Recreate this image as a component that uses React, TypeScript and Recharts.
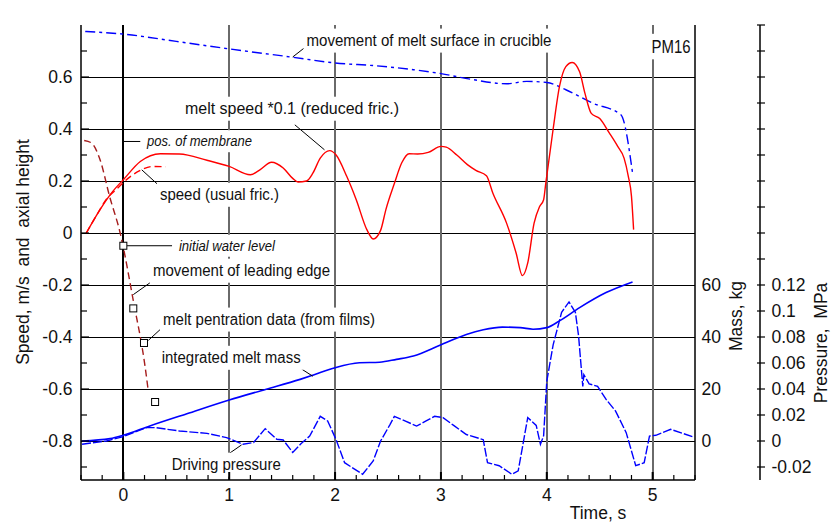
import React from 'react';
import { ComposedChart, Line, XAxis, YAxis, ReferenceLine, ReferenceDot } from 'recharts';

const FONT = '"Liberation Sans", Arial, Helvetica, sans-serif';

// movement of melt surface in crucible (axial height, m)
const surfTime = [-0.36, 0, 0.5, 1.0, 1.6, 2.0, 2.39, 2.74, 3.0, 3.3, 3.62, 3.81, 4.0, 4.18, 4.43, 4.7, 4.81];
const surfHeight = [0.775, 0.765, 0.737, 0.708, 0.676, 0.654, 0.643, 0.628, 0.613, 0.59, 0.574, 0.583, 0.579, 0.551, 0.5, 0.455, 0.231];

// melt speed *0.1 (reduced friction)
const meltTime = [-0.35, -0.22, -0.1, 0, 0.16, 0.35, 0.53, 0.79, 1.0, 1.2, 1.29, 1.4, 1.51, 1.6, 1.65, 1.73, 1.79, 1.86, 1.95, 2.01, 2.11, 2.2, 2.3, 2.36, 2.43, 2.48, 2.56, 2.63, 2.7, 2.78, 2.88, 3.0, 3.05, 3.15, 3.25, 3.33, 3.43, 3.49, 3.62, 3.71, 3.77, 3.82, 3.88, 3.93, 3.97, 3.99, 4.06, 4.12, 4.18, 4.24, 4.31, 4.36, 4.42, 4.5, 4.59, 4.67, 4.73, 4.77, 4.8, 4.82];
const meltSpeed = [0, 0.09, 0.16, 0.205, 0.275, 0.305, 0.304, 0.28, 0.256, 0.224, 0.243, 0.272, 0.25, 0.21, 0.196, 0.2, 0.23, 0.288, 0.317, 0.3, 0.218, 0.128, 0.013, -0.023, 0.01, 0.09, 0.19, 0.27, 0.305, 0.304, 0.31, 0.333, 0.33, 0.3, 0.263, 0.241, 0.22, 0.154, 0.038, -0.077, -0.164, -0.115, 0.038, 0.1, 0.128, 0.19, 0.4, 0.564, 0.64, 0.656, 0.62, 0.538, 0.46, 0.44, 0.385, 0.333, 0.288, 0.218, 0.141, 0.013];

// speed (usual friction)
const usualTime = [-0.35, -0.25, -0.16, -0.06, 0.06, 0.17, 0.28, 0.4];
const usualSpeed = [0, 0.07, 0.13, 0.17, 0.215, 0.243, 0.256, 0.255];

// movement of leading edge (axial height, m)
const edgeTime = [-0.37, -0.3, -0.22, -0.13, -0.03, 0.094, 0.205, 0.236];
const edgeHeight = [0.356, 0.346, 0.282, 0.141, 0, -0.26, -0.513, -0.609];

// melt penetration data (from films)
const filmTime = [0, 0.094, 0.195, 0.3];
const filmHeight = [-0.049, -0.29, -0.423, -0.65];

// integrated melt mass, kg
const massTime = [-0.39, -0.125, 0, 0.25, 0.6, 1.0, 1.35, 1.67, 1.79, 2.0, 2.23, 2.42, 2.58, 2.74, 2.99, 3.24, 3.4, 3.58, 3.75, 3.87, 4.0, 4.12, 4.31, 4.56, 4.81];
const massKg = [0, 0.9, 2.2, 5.8, 10.5, 15.8, 19.9, 23.7, 25.3, 28.2, 30.1, 30.3, 31.4, 32.7, 36.8, 41, 42.8, 43.8, 43.6, 43, 43.6, 46.2, 51.3, 57.1, 61.2];

// driving pressure, MPa
const presTime = [-0.39, -0.16, 0, 0.22, 0.3, 0.53, 0.79, 0.975, 1.13, 1.23, 1.34, 1.45, 1.51, 1.6, 1.68, 1.76, 1.86, 1.93, 2.01, 2.09, 2.26, 2.36, 2.43, 2.52, 2.56, 2.66, 2.77, 2.86, 2.94, 3.02, 3.12, 3.24, 3.4, 3.44, 3.55, 3.67, 3.73, 3.82, 3.9, 3.94, 3.97, 4.0, 4.06, 4.14, 4.21, 4.27, 4.3, 4.34, 4.35, 4.4, 4.48, 4.56, 4.65, 4.75, 4.84, 4.92, 4.97, 5.03, 5.17, 5.39];
const presMPa = [-0.0025, 0, 0.0034, 0.0103, 0.0103, 0.0077, 0.0059, 0.0026, -0.0025, -0.0012, 0.0095, 0.0013, 0.0008, -0.0088, -0.002, 0.0038, 0.019, 0.0154, 0.001, -0.0167, -0.0256, -0.0154, 0, 0.0128, 0.019, 0.0155, 0.0115, 0.0154, 0.019, 0.018, 0.012, 0.005, 0.001, -0.0167, -0.019, -0.0256, -0.023, 0.018, 0.012, -0.0025, 0.004, 0.046, 0.074, 0.099, 0.107, 0.099, 0.081, 0.042, 0.051, 0.044, 0.042, 0.032, 0.023, 0.0064, -0.019, -0.0167, 0.0038, 0.0044, 0.009, 0.003];

// axes ticks
const timeTicks = [-0.4, -0.2, 0, 0.2, 0.4, 0.6, 0.8, 1, 1.2, 1.4, 1.6, 1.8, 2, 2.2, 2.4, 2.6, 2.8, 3, 3.2, 3.4, 3.6, 3.8, 4, 4.2, 4.4, 4.6, 4.8, 5, 5.2, 5.4];
const speedTicks = [-0.9, -0.8, -0.7, -0.6, -0.5, -0.4, -0.3, -0.2, -0.1, 0, 0.1, 0.2, 0.3, 0.4, 0.5, 0.6, 0.7];
const massTicks = [0, 20, 40, 60];
const presTicks = [-0.02, 0, 0.02, 0.04, 0.06, 0.08, 0.1, 0.12, 0.14, 0.16, 0.18, 0.2, 0.22, 0.24, 0.26, 0.28, 0.3, 0.32];
const presLabelled = [-0.02, 0, 0.02, 0.04, 0.06, 0.08, 0.1, 0.12];
const gridSpeed = [-0.8, -0.6, -0.4, -0.2, 0, 0.2, 0.4, 0.6];
const gridTimeGray = [1, 2, 3, 4, 5];

const zip = (ts: number[], vs: number[]) => ts.map((t, i) => ({ t, y: vs[i] }));

const surfData = zip(surfTime, surfHeight);
const meltData = zip(meltTime, meltSpeed);
const usualData = zip(usualTime, usualSpeed);
const edgeData = zip(edgeTime, edgeHeight);
const filmData = zip(filmTime, filmHeight);
const massData = zip(massTime, massKg);
const presData = zip(presTime, presMPa);

// annotations (anchored in time / speed-axis units)
const annotations = [
  { text: 'movement of melt surface in crucible', t: 1.73, y: 0.74, w: 245, size: 16, italic: false },
  { text: 'melt speed *0.1 (reduced fric.)', t: 0.582, y: 0.478, w: 214, size: 16, italic: false },
  { text: 'pos. of membrane', t: 0.224, y: 0.353, w: 105, size: 14, italic: true },
  { text: 'speed (usual fric.)', t: 0.346, y: 0.147, w: 119, size: 16, italic: false },
  { text: 'initial water level', t: 0.525, y: -0.049, w: 96, size: 14, italic: true },
  { text: 'movement of leading edge', t: 0.28, y: -0.145, w: 177, size: 16, italic: false },
  { text: 'melt pentration data (from films)', t: 0.375, y: -0.333, w: 212, size: 16, italic: false },
  { text: 'integrated melt mass', t: 0.362, y: -0.48, w: 139, size: 16, italic: false },
  { text: 'Driving pressure', t: 0.457, y: -0.891, w: 109, size: 16, italic: false },
  { text: 'PM16', t: 4.99, y: 0.717, w: 39, size: 17.5, italic: false },
];

const leaders = [
  [1.6, 0.677, 1.71, 0.712],
  [1.62, 0.416, 1.9, 0.32],
  [0, 0.352, 0.16, 0.352],
  [0.174, 0.243, 0.33, 0.185],
  [0.035, -0.049, 0.46, -0.049],
  [0.094, -0.237, 0.25, -0.192],
  [0.236, -0.413, 0.346, -0.372],
  [1.683, -0.523, 1.79, -0.551],
  [1.007, -0.846, 1.117, -0.815],
];

const isMult = (v: number, step: number) => Math.abs(v / step - Math.round(v / step)) < 1e-6;

const BottomTick = (props: any) => {
  const { x, y, payload } = props;
  const v = payload.value;
  const major = isMult(v, 1);
  return (
    <g>
      <line x1={x} y1={y} x2={x} y2={y - (major ? 8 : 5)} stroke="#000" strokeWidth={major ? 2 : 1.2} />
      {major && (
        <text x={x} y={y + 21} textAnchor="middle" fontSize={17.5} fontFamily={FONT} fill="#111">
          {String(v)}
        </text>
      )}
    </g>
  );
};

const TopTick = (props: any) => {
  const { x, y, payload } = props;
  const major = isMult(payload.value, 1);
  return <line x1={x} y1={y} x2={x} y2={y + (major ? 8 : 5)} stroke="#000" strokeWidth={major ? 2 : 1.2} />;
};

const LeftTick = (props: any) => {
  const { x, y, payload } = props;
  const v = payload.value;
  const major = isMult(v, 0.2);
  return (
    <g>
      <line x1={x} y1={y} x2={x + (major ? 8 : 6)} y2={y} stroke="#000" strokeWidth={1.2} />
      {major && (
        <text x={x - 8.5} y={y} dy="0.35em" textAnchor="end" fontSize={17.5} fontFamily={FONT} fill="#111">
          {String(v)}
        </text>
      )}
    </g>
  );
};

const MassTick = (props: any) => {
  const { x, y, payload } = props;
  return (
    <text x={x + 6.5} y={y} dy="0.35em" textAnchor="start" fontSize={17.5} fontFamily={FONT} fill="#111">
      {String(payload.value)}
    </text>
  );
};

const PresTick = (props: any) => {
  const { x, y, payload } = props;
  const v = payload.value;
  const lab = presLabelled.some((p) => Math.abs(p - v) < 1e-9);
  return (
    <g>
      <line x1={x - 3} y1={y} x2={x + 5} y2={y} stroke="#000" strokeWidth={1.2} />
      {lab && (
        <text x={x + 11.5} y={y} dy="0.35em" textAnchor="start" fontSize={17.5} fontFamily={FONT} fill="#111">
          {String(v)}
        </text>
      )}
    </g>
  );
};

const AnnShape = (props: any) => {
  const { cx, cy, a } = props;
  const pad = 3;
  const h = a.size + 8;
  return (
    <g>
      <rect x={cx - pad} y={cy - h / 2} width={a.w + 2 * pad} height={h} fill="#fff" />
      <text
        x={cx}
        y={cy}
        dy="0.35em"
        fontSize={a.size}
        fontStyle={a.italic ? 'italic' : 'normal'}
        fontFamily={FONT}
        fill="#111"
        textLength={a.w}
        lengthAdjust="spacingAndGlyphs"
      >
        {a.text}
      </text>
    </g>
  );
};

const Square = (p: any) => (
  <rect key={`sq-${p.index}`} x={p.cx - 3.5} y={p.cy - 3.5} width={7} height={7} fill="#fff" stroke="#000" strokeWidth={1} />
);

export default function App() {
  return (
    <div style={{ position: 'absolute', left: 0, top: 0, width: 835, height: 525, background: '#fff' }}>
      <ComposedChart width={835} height={525} margin={{ top: 25, right: 0, bottom: 0, left: 0 }}>
        <XAxis
          xAxisId="b"
          type="number"
          dataKey="t"
          domain={[-0.4, 5.4]}
          ticks={timeTicks}
          interval={0}
          allowDataOverflow
          tickSize={0}
          tickMargin={0}
          tickLine={false}
          tick={BottomTick}
          height={45}
          axisLine={{ stroke: '#000', strokeWidth: 1.5 }}
          label={() => (
            <text x={598} y={519} textAnchor="middle" fontSize={17.5} fontFamily={FONT} fill="#111">
              Time, s
            </text>
          )}
        />
        <XAxis
          xAxisId="top"
          orientation="top"
          type="number"
          dataKey="t"
          domain={[-0.4, 5.4]}
          ticks={timeTicks}
          interval={0}
          allowDataOverflow
          tickSize={0}
          tickMargin={0}
          tickLine={false}
          tick={TopTick}
          height={0}
          axisLine={{ stroke: '#000', strokeWidth: 1.5 }}
          label={() => (
            <text x={81} y={20} textAnchor="start" fontSize={9.5} fontStyle="italic" fontWeight="bold" fontFamily={FONT} fill="#111">
              FMELT16
            </text>
          )}
        />
        <YAxis
          yAxisId="v"
          type="number"
          domain={[-0.95, 0.8]}
          ticks={speedTicks}
          interval={0}
          allowDataOverflow
          tickSize={0}
          tickMargin={0}
          tickLine={false}
          tick={LeftTick}
          width={81}
          axisLine={{ stroke: '#000', strokeWidth: 1.5 }}
          label={() => (
            <text
              x={23}
              y={252}
              transform="rotate(-90, 23, 252)"
              textAnchor="middle"
              dy="0.35em"
              fontSize={17.5}
              fontFamily={FONT}
              fill="#111"
              style={{ whiteSpace: 'pre' }}
            >
              {'Speed, m/s  and  axial height'}
            </text>
          )}
        />
        <YAxis
          yAxisId="mass"
          orientation="right"
          type="number"
          domain={[-15, 160]}
          ticks={massTicks}
          interval={0}
          allowDataOverflow
          tickSize={0}
          tickMargin={0}
          tickLine={false}
          tick={MassTick}
          width={65}
          axisLine={{ stroke: '#000', strokeWidth: 1.5 }}
          label={() => (
            <text x={736} y={316} transform="rotate(-90, 736, 316)" textAnchor="middle" dy="0.35em" fontSize={17.5} fontFamily={FONT} fill="#111">
              Mass, kg
            </text>
          )}
        />
        <YAxis
          yAxisId="pres"
          orientation="right"
          type="number"
          domain={[-0.03, 0.32]}
          ticks={presTicks}
          interval={0}
          allowDataOverflow
          tickSize={0}
          tickMargin={0}
          tickLine={false}
          tick={PresTick}
          width={75}
          axisLine={{ stroke: '#000', strokeWidth: 1.5 }}
          label={() => (
            <text
              x={820.5}
              y={343}
              transform="rotate(-90, 820.5, 343)"
              textAnchor="middle"
              dy="0.35em"
              fontSize={17.5}
              fontFamily={FONT}
              fill="#111"
              style={{ whiteSpace: 'pre' }}
            >
              {'Pressure,  MPa'}
            </text>
          )}
        />

        {gridSpeed.map((g) => (
          <ReferenceLine key={`gy${g}`} xAxisId="b" yAxisId="v" y={g} stroke="#000" strokeWidth={1} shapeRendering="crispEdges" />
        ))}
        {gridTimeGray.map((g) => (
          <ReferenceLine key={`gx${g}`} xAxisId="b" yAxisId="v" x={g} stroke="#6a6a6a" strokeWidth={2} shapeRendering="crispEdges" />
        ))}
        <ReferenceLine xAxisId="b" yAxisId="v" x={0} stroke="#000" strokeWidth={2} shapeRendering="crispEdges" />

        <Line xAxisId="b" yAxisId="v" data={surfData} dataKey="y" type="monotone" stroke="#0000ff" strokeWidth={1.4} strokeDasharray="10 4 3 4" dot={false} isAnimationActive={false} />
        <Line xAxisId="b" yAxisId="v" data={meltData} dataKey="y" type="monotone" stroke="#ff0000" strokeWidth={1.4} dot={false} isAnimationActive={false} />
        <Line xAxisId="b" yAxisId="v" data={usualData} dataKey="y" type="monotone" stroke="#ff0000" strokeWidth={1.4} strokeDasharray="7 4" dot={false} isAnimationActive={false} />
        <Line xAxisId="b" yAxisId="v" data={edgeData} dataKey="y" type="monotone" stroke="#a51c1c" strokeWidth={1.4} strokeDasharray="7 4" dot={false} isAnimationActive={false} />
        <Line xAxisId="b" yAxisId="mass" data={massData} dataKey="y" type="monotone" stroke="#0000ff" strokeWidth={1.6} dot={false} isAnimationActive={false} />
        <Line xAxisId="b" yAxisId="pres" data={presData} dataKey="y" type="linear" stroke="#0000ff" strokeWidth={1.4} strokeDasharray="9 2" dot={false} isAnimationActive={false} />
        <Line xAxisId="b" yAxisId="v" data={filmData} dataKey="y" stroke="none" strokeWidth={0} dot={Square} activeDot={false} isAnimationActive={false} />

        {leaders.map((l, i) => (
          <ReferenceLine
            key={`ld${i}`}
            xAxisId="b"
            yAxisId="v"
            segment={[{ x: l[0], y: l[1] }, { x: l[2], y: l[3] }]}
            stroke="#000"
            strokeWidth={1}
          />
        ))}
        {annotations.map((a, i) => (
          <ReferenceDot
            key={`an${i}`}
            xAxisId="b"
            yAxisId="v"
            x={a.t}
            y={a.y}
            r={0}
            ifOverflow="visible"
            shape={(p: any) => <AnnShape {...p} a={a} />}
          />
        ))}
      </ComposedChart>
    </div>
  );
}
